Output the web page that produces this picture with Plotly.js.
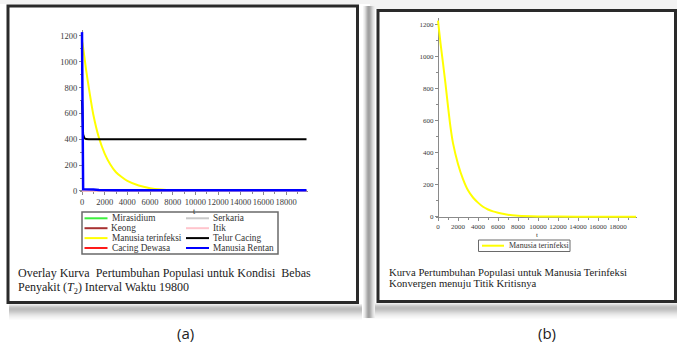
<!DOCTYPE html>
<html><head><meta charset="utf-8">
<script src="https://cdn.plot.ly/plotly-3.0.1.min.js"></script>
<style>html,body{margin:0;padding:0;background:#fff}#chart{width:677px;height:353px}</style>
</head><body><div id="chart"></div>
<script>
// ---------- DATA ----------
// Panel (a): overlay, time interval 19800
const timeA = [0, 50, 100, 200, 350, 600, 1000, 1500, 2000, 2500, 3000, 3500, 4000, 5000, 6000, 7000, 8000, 10000, 14000, 19800];
const mirasidiumA        = [0, 0, 0, 0, 0, 0, 0, 0, 0, 0, 0, 0, 0, 0, 0, 0, 0, 0, 0, 0];
const keongA             = [0, 0, 0, 0, 0, 0, 0, 0, 0, 0, 0, 0, 0, 0, 0, 0, 0, 0, 0, 0];
const manusiaTerinfeksiA = [1160, 1140, 1110, 1045, 945, 800, 590, 410, 290, 205, 145, 108, 78, 42, 22, 11, 5, 1, 0, 0];
const cacingDewasaA      = [0, 0, 0, 0, 0, 0, 0, 0, 0, 0, 0, 0, 0, 0, 0, 0, 0, 0, 0, 0];
const serkariaA          = [0, 0, 0, 0, 0, 0, 0, 0, 0, 0, 0, 0, 0, 0, 0, 0, 0, 0, 0, 0];
const itikA              = [0, 0, 0, 0, 0, 0, 0, 0, 0, 0, 0, 0, 0, 0, 0, 0, 0, 0, 0, 0];
const telurCacingA       = [700, 520, 440, 410, 402, 400, 400, 400, 400, 400, 400, 400, 400, 400, 400, 400, 400, 400, 400, 400];
const manusiaRentanA     = [1230, 15, 13, 13, 13, 12, 11, 7, 5, 5, 5, 5, 5, 5, 5, 5, 5, 5, 5, 5];
const seriesNamesA = ['Mirasidium', 'Keong', 'Manusia terinfeksi', 'Cacing Dewasa', 'Serkaria', 'Itik', 'Telur Cacing', 'Manusia Rentan'];

// Panel (b): infected humans only
const timeB = [0, 250, 500, 750, 1000, 1250, 1500, 2000, 2500, 3000, 3500, 4000, 4500, 5000, 5500, 6000, 7000, 8000, 10000, 14000, 19800];
const manusiaTerinfeksiB = [1225, 1085, 960, 830, 690, 560, 460, 330, 235, 165, 120, 88, 62, 45, 33, 25, 12, 6, 2, 0, 0];
const seriesNamesB = ['Manusia terinfeksi'];

const xTickVals = [0, 2000, 4000, 6000, 8000, 10000, 12000, 14000, 16000, 18000];
const yTickVals = [0, 200, 400, 600, 800, 1000, 1200];

const captionA1 = 'Overlay Kurva\u00a0 Pertumbuhan Populasi untuk Kondisi\u00a0 Bebas';
const captionA2 = 'Penyakit (<i>T</i><sub>2</sub>) Interval Waktu 19800';
const captionB1 = 'Kurva Pertumbuhan Populasi untuk Manusia Terinfeksi';
const captionB2 = 'Konvergen menuju Titik Kritisnya';

// ---------- STYLE / GEOMETRY ----------
const W = 677, H = 353;
const fx = p => p / W;
const fy = p => 1 - p / H;
const SERIF = 'Liberation Serif, Times New Roman, serif';

const valuesA = [mirasidiumA, keongA, manusiaTerinfeksiA, cacingDewasaA, serkariaA, itikA, telurCacingA, manusiaRentanA];
const colorsA = ['#3cf03c', '#a83232', '#ffff00', '#ff1a1a', '#c8c8c8', '#ffc4cc', '#000000', '#0000ff'];
const widthsA = [1.5, 1.5, 2, 1.5, 1.5, 1.5, 2, 2.5];

// pixel geometry of each panel: t=0 px, t=19800 px, v=0 py, v=1200 py
const geomA = {x0: 82, x1: 306.5, y0: 191, y1: 36};
const geomB = {x0: 438, x1: 636, y0: 216.7, y1: 24.7};
const xr = [-200, 19900], yr = [-15, 1245];
function axesFor(g, fs) {
  const kx = (g.x1 - g.x0) / 19800, ky = (g.y0 - g.y1) / 1200;
  const base = {showline: true, linecolor: '#8a8a8a', linewidth: 1, ticks: 'outside', ticklen: 3, tickwidth: 1,
    tickcolor: '#8a8a8a', showgrid: false, zeroline: false, fixedrange: true, exponentformat: 'none',
    separatethousands: false, tickangle: 0, layer: 'below traces',
    tickfont: {family: SERIF, size: fs, color: '#3a3a3a'}};
  const xa = Object.assign({}, base, {
    range: xr, domain: [fx(g.x0 + xr[0] * kx), fx(g.x0 + xr[1] * kx)], anchor: 'free', position: fy(g.y0),
    tickmode: 'array', tickvals: xTickVals, ticktext: xTickVals.map(String),
    minor: {dtick: 1000, tick0: 0, ticks: 'outside', ticklen: 2, tickcolor: '#8a8a8a'}});
  const ya = Object.assign({}, base, {
    range: yr, domain: [fy(g.y0 - yr[0] * ky), fy(g.y0 - yr[1] * ky)], anchor: 'free', position: fx(g.x0),
    tickmode: 'array', tickvals: yTickVals, ticktext: yTickVals.map(String),
    minor: {dtick: 100, tick0: 0, ticks: 'outside', ticklen: 2, tickcolor: '#8a8a8a'}});
  return [xa, ya];
}
const [xaA, yaA] = axesFor(geomA, 8.5);
const [xaB, yaB] = axesFor(geomB, 7);

const traces = [];
valuesA.forEach((v, i) => {
  traces.push({type: 'scatter', mode: 'lines', x: timeA, y: v, name: seriesNamesA[i], xaxis: 'x', yaxis: 'y',
    line: {color: colorsA[i], width: widthsA[i], shape: i === 2 ? 'spline' : 'linear', smoothing: 0.6},
    hoverinfo: 'skip'});
});
traces.push({type: 'scatter', mode: 'lines', x: timeB, y: manusiaTerinfeksiB, name: seriesNamesB[0],
  xaxis: 'x2', yaxis: 'y2', line: {color: '#ffff00', width: 2, shape: 'spline', smoothing: 0.6}, hoverinfo: 'skip'});

const shapes = [];
const annotations = [];
function rect(x0, y0, x1, y1, opts) {
  shapes.push(Object.assign({type: 'rect', xref: 'paper', yref: 'paper', x0: fx(x0), x1: fx(x1), y0: fy(y1), y1: fy(y0)}, opts));
}
function hline(x0, x1, y, color, w) {
  shapes.push({type: 'line', xref: 'paper', yref: 'paper', x0: fx(x0), x1: fx(x1), y0: fy(y), y1: fy(y), line: {color: color, width: w}});
}
function text(x, y, t, size, opts) {
  annotations.push(Object.assign({xref: 'paper', yref: 'paper', x: fx(x), y: fy(y), text: t, showarrow: false,
    xanchor: 'left', yanchor: 'middle', font: {family: SERIF, size: size, color: '#222'}}, opts));
}

// background shadows
rect(0, 0, 677, 4, {fillcolor: '#f3f3f3', line: {width: 0}, layer: 'below'});
rect(370, 4, 677, 9, {fillcolor: '#f3f3f3', line: {width: 0}, layer: 'below'});
const shadeRows = ['#eeeeee', '#dedede', '#cfcfcf', '#c4c4c4', '#bebebe', '#bdbdbd', '#c1c1c1', '#c8c8c8', '#d0d0d0', '#d9d9d9', '#e1e1e1', '#e8e8e8', '#eeeeee', '#f3f3f3', '#f7f7f7', '#fbfbfb'];
shadeRows.forEach((c, i) => {
  rect(9, 304 + i, 362, 305 + i, {fillcolor: c, line: {width: 0}, layer: 'below'});
  rect(366, 303 + i, 677, 304 + i, {fillcolor: c, line: {width: 0}, layer: 'below'});
});
const shadeCols = ['#f4f4f4', '#e8e8e8', '#d6d6d6', '#c0c0c0', '#ababab', '#a0a0a0', '#a4a4a4', '#b2b2b2', '#c4c4c4', '#d6d6d6', '#e4e4e4', '#eeeeee'];
shadeCols.forEach((c, i) => rect(363 + i, 6, 364 + i, 318, {fillcolor: c, line: {width: 0}, layer: 'below'}));

// frames
rect(8, 6, 357.5, 302.5, {line: {color: '#2a2a2a', width: 3}});
rect(378, 10.5, 675.5, 301.5, {line: {color: '#2a2a2a', width: 3}});

// legend (a): two columns of four
rect(82, 212, 278, 254, {line: {color: '#6a6a6a', width: 1.5}});
seriesNamesA.forEach((n, i) => {
  const col = Math.floor(i / 4), row = i % 4;
  const yy = 218.3 + row * 9.9;
  const sx = col === 0 ? 84.5 : 186;
  hline(sx, sx + 23, yy, colorsA[i], 2);
  text(sx + 25, yy, n, 9.3, {font: {family: SERIF, size: 9.3, color: '#333'}});
});
// legend (b)
rect(478.5, 240, 570, 251.5, {line: {color: '#6a6a6a', width: 1}});
hline(482, 504, 245.7, '#ffff00', 2);
text(506.5, 245.7, seriesNamesB[0], 8, {font: {family: SERIF, size: 8, color: '#333'}});

// axis titles "t"
text(194, 211, 't', 8, {xanchor: 'center', font: {family: SERIF, size: 8, color: '#333'}});
text(537, 235, 't', 7, {xanchor: 'center', font: {family: SERIF, size: 7, color: '#333'}});

// captions
text(16, 273, captionA1, 12);
text(16, 288, captionA2, 12);
text(387, 272, captionB1, 10.7);
text(387, 283, captionB2, 10.7);

// panel labels
text(185, 333, '(a)', 15, {xanchor: 'center', font: {family: 'Open Sans, sans-serif', size: 15, color: '#222'}});
text(547, 333, '(b)', 15, {xanchor: 'center', font: {family: 'Open Sans, sans-serif', size: 15, color: '#222'}});

const layout = {
  width: W, height: H, margin: {l: 0, r: 0, t: 0, b: 0, pad: 0},
  paper_bgcolor: '#ffffff', plot_bgcolor: 'rgba(0,0,0,0)', showlegend: false,
  xaxis: xaA, yaxis: yaA, xaxis2: xaB, yaxis2: yaB,
  shapes: shapes, annotations: annotations
};
Plotly.newPlot('chart', traces, layout, {staticPlot: true, displayModeBar: false});
</script>
</body></html>
